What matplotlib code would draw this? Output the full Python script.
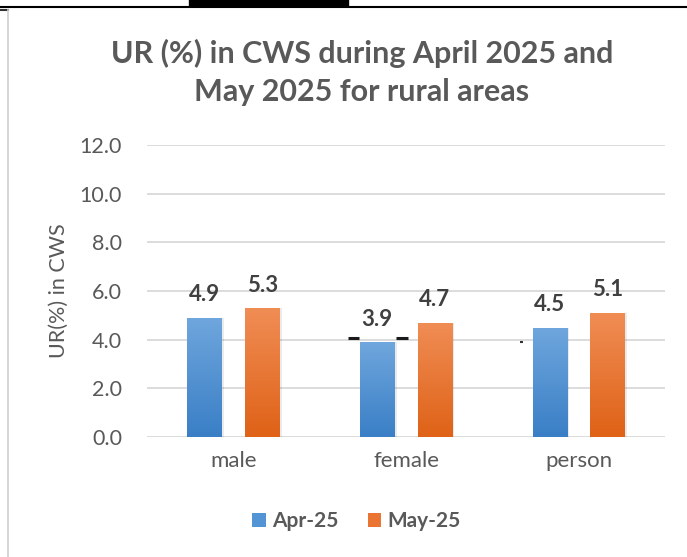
import matplotlib
matplotlib.use("Agg")
import matplotlib.pyplot as plt
import numpy as np
from matplotlib.colors import LinearSegmentedColormap
from matplotlib.patches import Patch

categories = ["male", "female", "person"]
apr_25 = [4.9, 3.9, 4.5]
may_25 = [5.3, 4.7, 5.1]
series_names = ["Apr-25", "May-25"]
y_ticks = [0, 2, 4, 6, 8, 10, 12]

plt.rcParams['font.family'] = ['Lato', 'DejaVu Sans']
txt = '#595959'

fig = plt.figure(figsize=(6.87, 5.57), dpi=100)
ax = fig.add_axes([0.214, 0.2154, 0.754, 0.5243])

blue_cm = LinearSegmentedColormap.from_list('b', ['#3a7fc6', '#6fa6dd'])
orange_cm = LinearSegmentedColormap.from_list('o', ['#df6217', '#f08d55'])

x = np.arange(len(categories))
w = 0.2
off = 0.167
grad = np.linspace(0, 1, 100).reshape(-1, 1)


def gradient_bars(xs, vals, cmap):
    bars = ax.bar(xs, vals, width=w, color='none', edgecolor='none', zorder=3)
    for b in bars:
        x0, y0 = b.get_x(), b.get_y()
        im = ax.imshow(grad, cmap=cmap, aspect='auto', origin='lower',
                       extent=[x0, x0 + b.get_width(), y0, y0 + b.get_height()],
                       zorder=3)
        im.set_clip_path(b)
        # soft shadow
        ax.bar(x0 + b.get_width() / 2 + 0.012, b.get_height(), width=w,
               color='#000000', alpha=0.08, zorder=2.5)
    return bars


gradient_bars(x - off, apr_25, blue_cm)
gradient_bars(x + off, may_25, orange_cm)

for xs, vals in ((x - off, apr_25), (x + off, may_25)):
    for xi, v in zip(xs, vals):
        ax.annotate(f"{v:.1f}", (xi, v), xytext=(0, 9), textcoords='offset points',
                    ha='center', va='bottom', fontsize=16, fontweight='bold',
                    color='#404040')

# small dark dashes seen beside the female bar and near the person bar
ax.hlines([4.05, 4.05], [0.665, 0.94], [0.725, 1.01], colors='#1a1a1a', lw=2.2,
          zorder=4)
ax.hlines([3.9], [1.662], [1.676], colors='#333333', lw=1.5, zorder=4)

ax.set_xlim(-0.5, 2.5)
ax.set_ylim(0, 12)
ax.set_yticks(y_ticks)
ax.set_yticklabels([f"{t:.1f}" for t in y_ticks])
ax.set_xticks(x)
ax.set_xticklabels(categories)
ax.grid(axis='y', color='#d9d9d9', lw=1.3, zorder=0)
ax.set_axisbelow(True)
for s in ax.spines.values():
    s.set_visible(False)
ax.tick_params(length=0, colors=txt, labelsize=15.5, pad=10)
ax.tick_params(axis='x', labelsize=16)
ax.tick_params(axis='y', pad=18)
ax.set_ylabel("UR(%) in CWS", fontsize=15.5, color=txt, labelpad=8)

fig.text(0.527, 0.87, "UR (%) in CWS during April 2025 and\nMay 2025 for rural areas",
         ha='center', va='center', fontsize=22, fontweight='bold', color=txt,
         linespacing=1.42)

handles = [Patch(facecolor='#5394d4'), Patch(facecolor='#ea7533')]
leg = fig.legend(handles, series_names, loc='center', bbox_to_anchor=(0.519, 0.064),
                 ncol=2, frameon=False, handlelength=0.65, handleheight=0.65,
                 handletextpad=0.3, columnspacing=1.4,
                 prop={'size': 15, 'weight': 'bold'})
for t in leg.get_texts():
    t.set_color(txt)

# frame bits of the screenshot
fig.add_artist(plt.Line2D([0, 1], [0.988, 0.988], color='black', lw=1.5))
fig.add_artist(plt.Line2D([0.281, 0.502], [0.995, 0.995], color='black', lw=6))
fig.add_artist(plt.Line2D([0, 0.012], [0.982, 0.982], color='#333333', lw=1.5))
fig.add_artist(plt.Line2D([0.012, 0.012], [0, 0.982], color='#d0d0d0', lw=1.2))

fig.savefig("out.png", dpi=100)
